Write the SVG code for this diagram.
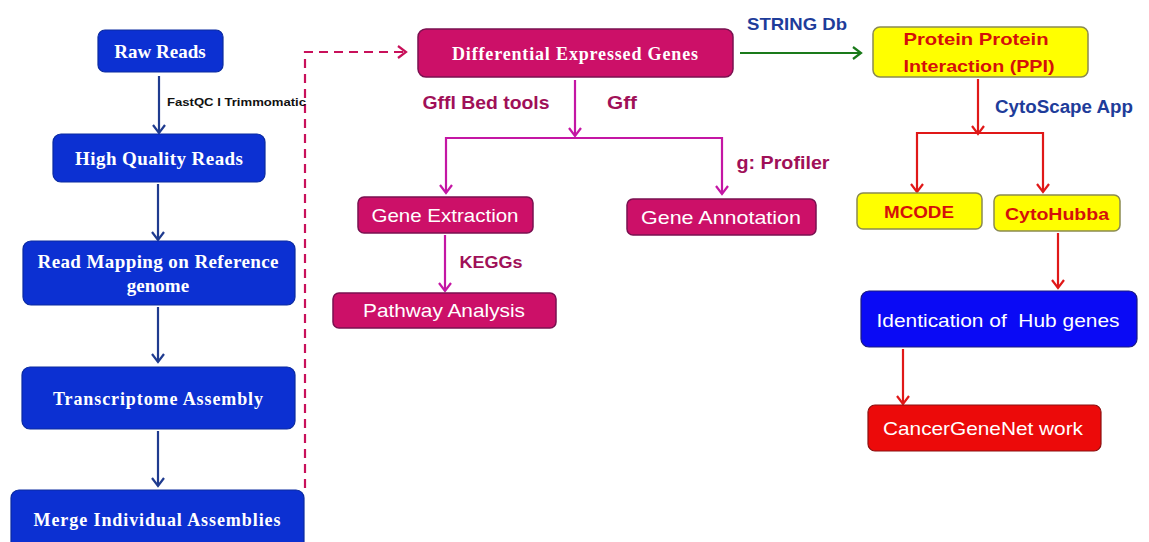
<svg xmlns="http://www.w3.org/2000/svg" width="1149" height="542" viewBox="0 0 1149 542">
<style>
.bl{fill:#0c30d2;stroke:#0a2aa0;stroke-width:1.2}
.mg{fill:#cc1068;stroke:#7a1050;stroke-width:1.5}
.yl{fill:#ffff00;stroke:#8a8a50;stroke-width:1.5}
.hb{fill:#0a0af5;stroke:#1a1a80;stroke-width:1.2}
.rd{fill:#ec0a0a;stroke:#8a1010;stroke-width:1.2}
.ts{font-family:"Liberation Serif",serif;font-weight:bold;fill:#fff;text-anchor:middle}
.tc{font-family:"Liberation Sans",Arial,sans-serif;fill:#fff;text-anchor:middle}
.tb{font-family:"Liberation Sans",Arial,sans-serif;font-weight:bold;text-anchor:middle}
.lm{fill:#a01058}
.lb{fill:#1e3c9a}
.lr{fill:#d4100a}
.cb{fill:none;stroke:#1f3b8f;stroke-width:2.2}
.cm{fill:none;stroke:#c416a4;stroke-width:2.2}
.cr{fill:none;stroke:#e01818;stroke-width:2.2}
.cg{fill:none;stroke:#1a7a1a;stroke-width:2.2}
.cd{fill:none;stroke:#c8105a;stroke-width:2.2;stroke-dasharray:9,6}
</style>
<defs>
<marker id="ab" markerWidth="14" markerHeight="14" refX="11" refY="7" orient="auto" markerUnits="userSpaceOnUse"><path d="M3,1 L11,7 L3,13" fill="none" stroke="#1f3b8f" stroke-width="2.2"/></marker>
<marker id="am" markerWidth="14" markerHeight="14" refX="11" refY="7" orient="auto" markerUnits="userSpaceOnUse"><path d="M3,1 L11,7 L3,13" fill="none" stroke="#c416a4" stroke-width="2.2"/></marker>
<marker id="ar" markerWidth="14" markerHeight="14" refX="11" refY="7" orient="auto" markerUnits="userSpaceOnUse"><path d="M3,1 L11,7 L3,13" fill="none" stroke="#e01818" stroke-width="2.2"/></marker>
<marker id="ag" markerWidth="14" markerHeight="14" refX="11" refY="7" orient="auto" markerUnits="userSpaceOnUse"><path d="M3,1 L11,7 L3,13" fill="none" stroke="#1a7a1a" stroke-width="2.2"/></marker>
<marker id="ad" markerWidth="14" markerHeight="14" refX="11" refY="7" orient="auto" markerUnits="userSpaceOnUse"><path d="M3,1 L11,7 L3,13" fill="none" stroke="#c8105a" stroke-width="2.2"/></marker>
</defs>
<rect width="1149" height="542" fill="#fff"/>

<g id="connectors">
<line class="cb" x1="159" y1="76" x2="159" y2="133" marker-end="url(#ab)"/>
<line class="cb" x1="158" y1="184" x2="158" y2="240" marker-end="url(#ab)"/>
<line class="cb" x1="158" y1="307" x2="158" y2="362" marker-end="url(#ab)"/>
<line class="cb" x1="158" y1="431" x2="158" y2="486" marker-end="url(#ab)"/>
<polyline class="cd" points="305,488 305,52 406,52" marker-end="url(#ad)"/>
<line class="cm" x1="575" y1="80" x2="575" y2="136" marker-end="url(#am)"/>
<line class="cm" x1="445" y1="138" x2="723" y2="138"/>
<line class="cm" x1="446" y1="137" x2="446" y2="193" marker-end="url(#am)"/>
<line class="cm" x1="722" y1="137" x2="722" y2="194" marker-end="url(#am)"/>
<line class="cm" x1="445" y1="235" x2="445" y2="291" marker-end="url(#am)"/>
<line class="cg" x1="740" y1="53" x2="861" y2="53" marker-end="url(#ag)"/>
<line class="cr" x1="978" y1="79" x2="978" y2="134" marker-end="url(#ar)"/>
<line class="cr" x1="916" y1="133" x2="1044" y2="133"/>
<line class="cr" x1="917" y1="132" x2="917" y2="192" marker-end="url(#ar)"/>
<line class="cr" x1="1043" y1="132" x2="1043" y2="192" marker-end="url(#ar)"/>
<line class="cr" x1="1058" y1="233" x2="1058" y2="288" marker-end="url(#ar)"/>
<line class="cr" x1="903" y1="349" x2="903" y2="404" marker-end="url(#ar)"/>
<text x="167" y="106" font-family="'Liberation Sans',Arial,sans-serif" font-weight="bold" font-size="11.5" fill="#111" textLength="139" lengthAdjust="spacingAndGlyphs">FastQC I Trimmomatic</text>
<text class="tb lm" x="486" y="109" font-size="18" textLength="127" lengthAdjust="spacingAndGlyphs">Gffl Bed tools</text>
<text class="tb lm" x="622" y="109" font-size="18" textLength="30" lengthAdjust="spacingAndGlyphs">Gff</text>
<text class="tb lm" x="783" y="169" font-size="18" textLength="93" lengthAdjust="spacingAndGlyphs">g: Profiler</text>
<text class="tb lm" x="491" y="268" font-size="17" textLength="63" lengthAdjust="spacingAndGlyphs">KEGGs</text>
<text class="tb lb" x="797" y="30" font-size="17" textLength="100" lengthAdjust="spacingAndGlyphs">STRING Db</text>
<text class="tb lb" x="1064" y="113" font-size="18" textLength="138" lengthAdjust="spacingAndGlyphs">CytoScape App</text>
</g>

<g id="raw-reads"><rect class="bl" x="98" y="30" width="125" height="42" rx="7"/><text class="ts" x="160" y="58" font-size="19">Raw Reads</text></g>
<g id="hq-reads"><rect class="bl" x="53" y="134" width="212" height="48" rx="8"/><text class="ts" x="159" y="165" font-size="19" textLength="168" lengthAdjust="spacing">High Quality Reads</text></g>
<g id="read-mapping"><rect class="bl" x="23" y="241" width="272" height="64" rx="8"/><text class="ts" x="158" y="268" font-size="19" textLength="241" lengthAdjust="spacing">Read Mapping on Reference</text><text class="ts" x="158" y="292" font-size="19">genome</text></g>
<g id="transcriptome"><rect class="bl" x="22" y="367" width="273" height="62" rx="8"/><text class="ts" x="158" y="405" font-size="18" textLength="210" lengthAdjust="spacing">Transcriptome Assembly</text></g>
<g id="merge"><rect class="bl" x="11" y="490" width="293" height="62" rx="8"/><text class="ts" x="157" y="526" font-size="18" textLength="247" lengthAdjust="spacing">Merge Individual Assemblies</text></g>

<g id="deg"><rect class="mg" x="418" y="29" width="315" height="48" rx="8"/><text class="ts" x="575" y="60" font-size="18" textLength="246" lengthAdjust="spacing">Differential Expressed Genes</text></g>
<g id="gene-extraction"><rect class="mg" x="358" y="197" width="175" height="36" rx="6"/><text class="tc" x="445" y="222" font-size="19" textLength="147" lengthAdjust="spacingAndGlyphs">Gene Extraction</text></g>
<g id="gene-annotation"><rect class="mg" x="627" y="199" width="189" height="36" rx="6"/><text class="tc" x="721" y="224" font-size="19" textLength="160" lengthAdjust="spacingAndGlyphs">Gene Annotation</text></g>
<g id="pathway"><rect class="mg" x="333" y="293" width="223" height="35" rx="6"/><text class="tc" x="444" y="317" font-size="19" textLength="162" lengthAdjust="spacingAndGlyphs">Pathway Analysis</text></g>

<g id="ppi"><rect class="yl" x="873" y="27" width="215" height="50" rx="7"/><text class="tb lr" x="976" y="45" font-size="17" textLength="145" lengthAdjust="spacingAndGlyphs">Protein Protein</text><text class="tb lr" x="979" y="72" font-size="17" textLength="151" lengthAdjust="spacingAndGlyphs">Interaction (PPI)</text></g>
<g id="mcode"><rect class="yl" x="857" y="193" width="125" height="36" rx="6"/><text class="tb lr" x="919" y="218" font-size="17" textLength="70" lengthAdjust="spacingAndGlyphs">MCODE</text></g>
<g id="cytohubba"><rect class="yl" x="994" y="195" width="126" height="36" rx="6"/><text class="tb lr" x="1057" y="220" font-size="17" textLength="104" lengthAdjust="spacingAndGlyphs">CytoHubba</text></g>
<g id="hub-genes"><rect class="hb" x="861" y="291" width="276" height="56" rx="8"/><text class="tc" x="998" y="327" font-size="19" textLength="243" lengthAdjust="spacingAndGlyphs" xml:space="preserve">Identication of  Hub genes</text></g>
<g id="cancer-network"><rect class="rd" x="868" y="405" width="233" height="46" rx="7"/><text class="tc" x="983" y="435" font-size="19" textLength="200" lengthAdjust="spacingAndGlyphs">CancerGeneNet work</text></g>
</svg>
